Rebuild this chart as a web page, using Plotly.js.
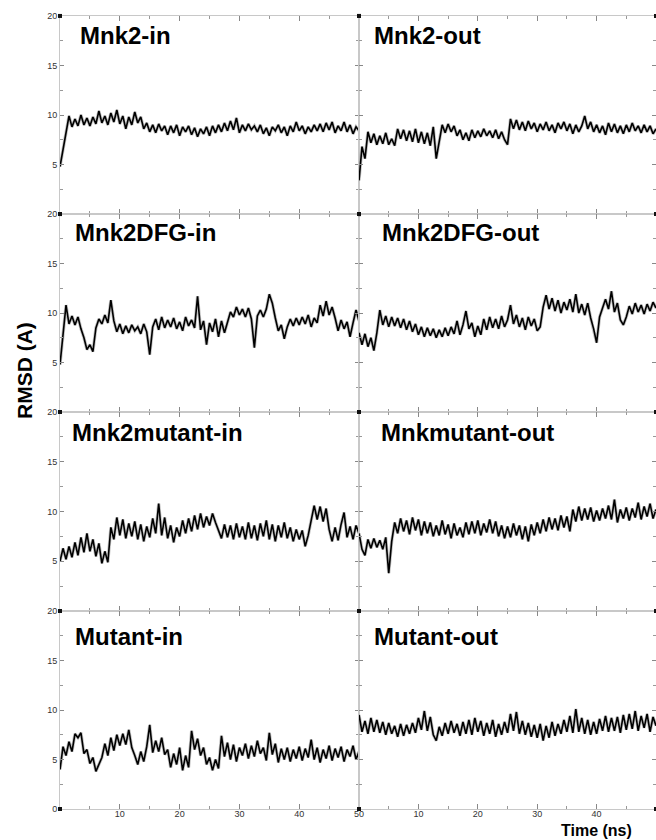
<!DOCTYPE html>
<html>
<head>
<meta charset="utf-8">
<script src="https://cdn.plot.ly/plotly-3.0.1.min.js"></script>
<style>html,body{margin:0;padding:0;background:#fff;}#chart{width:656px;height:840px;}</style>
</head>
<body>
<div id="chart"></div>
<script>
// Time axis (ns)
const time = [0,0.5,1,1.5,2,2.5,3,3.5,4,4.5,5,5.5,6,6.5,7,7.5,8,8.5,9,9.5,
10,10.5,11,11.5,12,12.5,13,13.5,14,14.5,15,15.5,16,16.5,17,17.5,18,18.5,19,19.5,
20,20.5,21,21.5,22,22.5,23,23.5,24,24.5,25,25.5,26,26.5,27,27.5,28,28.5,29,29.5,
30,30.5,31,31.5,32,32.5,33,33.5,34,34.5,35,35.5,36,36.5,37,37.5,38,38.5,39,39.5,
40,40.5,41,41.5,42,42.5,43,43.5,44,44.5,45,45.5,46,46.5,47,47.5,48,48.5,49,49.5,50];

const panelNames = ["Mnk2-in","Mnk2-out","Mnk2DFG-in","Mnk2DFG-out","Mnk2mutant-in","Mnkmutant-out","Mutant-in","Mutant-out"];

const mnk2In = [4.8,6.6,8.2,9.9,8.8,9.6,8.9,10.0,9.0,9.7,
8.9,9.8,9.1,10.4,9.2,9.9,9.0,10.2,9.3,10.5,
9.1,9.9,8.6,9.8,9.0,10.3,9.2,9.8,8.6,9.2,
8.3,9.0,8.2,9.1,8.4,8.9,8.0,8.9,8.2,9.0,
7.9,8.8,8.3,8.9,8.0,8.7,7.8,8.6,8.1,8.8,
7.9,8.9,8.2,9.0,8.3,9.2,8.4,9.4,8.5,9.7,
8.2,9.0,8.4,9.1,8.5,8.9,8.3,9.0,8.1,8.7,
7.9,8.8,8.4,9.0,8.2,8.8,7.9,8.9,8.3,9.3,
8.4,8.9,8.1,8.8,8.3,9.0,8.4,9.1,8.3,9.2,
8.5,9.3,8.2,8.9,8.4,9.3,8.3,9.0,8.1,8.8,
8.4];

const mnk2Out = [3.4,6.8,5.6,8.3,7.2,8.1,7.0,7.9,7.1,8.2,
7.0,7.6,6.9,8.6,7.6,8.5,7.4,8.4,7.3,8.6,
7.2,8.3,7.1,8.2,6.9,8.8,5.6,7.2,9.0,8.2,
9.1,8.3,8.9,7.9,8.5,7.5,8.2,7.4,8.5,7.7,
8.4,7.8,8.6,7.9,8.4,7.7,8.5,7.6,8.3,7.5,
7.0,9.6,8.6,9.5,8.5,9.3,8.4,9.4,8.6,9.2,
8.3,9.1,8.5,9.3,8.4,9.0,8.2,9.2,8.6,9.3,
8.4,9.1,8.1,9.0,8.3,8.9,9.9,8.6,9.3,8.3,
9.0,8.2,8.9,8.0,9.2,8.3,9.1,8.2,8.9,8.1,
9.0,8.3,9.2,8.4,8.9,8.2,9.0,8.3,8.9,8.1,
8.6];

const mnk2DfgIn = [4.8,8.2,10.8,8.9,9.7,8.8,9.6,8.4,7.5,6.3,
6.8,6.1,8.5,9.4,8.9,9.8,9.0,11.3,9.2,8.1,
8.9,7.9,8.7,8.0,8.8,8.2,8.6,7.9,8.9,8.1,
5.8,8.6,9.4,8.3,9.6,8.5,9.3,8.6,9.5,8.4,
9.1,8.2,9.6,8.7,9.3,8.5,11.7,8.3,9.2,6.8,
9.0,8.1,9.4,7.6,9.2,8.0,9.1,10.1,9.6,10.6,
9.8,10.4,9.6,10.5,9.4,6.5,9.7,10.3,9.6,10.4,
11.9,11.0,9.5,8.2,8.8,7.4,8.6,9.4,8.7,9.5,
8.8,9.6,8.9,9.8,8.6,9.5,9.0,10.8,9.7,11.2,
9.8,10.6,9.5,8.2,9.3,8.4,9.1,7.6,9.0,10.3,
9.2];

const mnk2DfgOut = [8.0,6.8,7.9,6.6,7.5,6.2,8.0,10.3,8.8,9.7,
8.6,9.6,8.7,9.5,8.5,9.4,8.3,9.2,8.1,8.9,
7.8,8.6,7.6,8.5,7.7,8.4,7.5,8.3,7.6,8.5,
7.7,8.6,7.9,9.2,7.8,8.8,10.2,8.4,9.0,7.6,
8.7,7.8,9.4,8.3,9.6,8.5,9.4,8.4,9.7,8.6,
9.3,10.8,8.9,9.8,8.6,9.5,8.3,9.6,8.7,9.4,
8.2,8.6,10.6,11.8,10.4,11.5,10.2,11.3,10.0,11.1,
10.3,11.4,10.1,11.9,10.0,10.9,9.8,11.0,9.5,8.4,
7.0,9.6,10.5,11.4,10.4,12.2,10.1,11.0,9.3,8.8,
9.6,10.7,9.9,11.0,10.1,10.8,9.9,10.9,10.2,11.1,
10.5];

const mnk2MutantIn = [5.0,6.3,5.2,6.5,5.4,6.9,5.6,7.4,5.9,7.8,
6.0,7.2,5.5,6.8,4.8,6.0,4.9,8.4,7.2,9.4,
7.6,9.2,7.3,8.8,7.5,9.0,7.2,8.7,7.0,8.5,
7.4,9.3,7.8,10.8,7.6,9.4,7.3,8.6,6.9,8.4,
7.5,9.1,7.8,9.3,8.0,9.6,8.2,9.8,8.4,9.5,
8.6,9.8,8.9,8.1,7.3,8.7,7.4,8.6,7.2,8.8,
7.4,8.5,7.2,8.9,7.3,8.6,7.1,8.8,7.5,9.1,
7.2,8.7,7.0,8.6,7.4,8.9,7.3,8.4,7.0,8.2,
7.2,8.1,6.5,7.6,9.0,10.6,9.2,10.5,9.0,10.3,
8.2,7.0,8.4,7.1,8.7,9.9,7.4,8.5,7.2,8.6,
7.8];

const mnkMutantOut = [7.8,6.2,5.6,7.2,6.3,7.3,6.4,7.1,6.2,7.4,
3.8,7.0,8.9,7.8,9.3,8.0,9.1,7.7,9.4,8.1,
9.2,7.6,9.0,7.8,8.9,7.5,8.6,7.6,9.1,7.7,
8.7,7.3,8.8,7.6,8.4,7.4,8.9,7.7,9.0,7.8,
9.1,7.6,8.8,7.9,9.2,7.8,9.0,7.5,8.6,7.3,
8.5,7.4,8.8,7.6,8.6,7.2,8.5,7.0,8.7,7.6,
8.9,7.8,9.2,8.0,9.4,8.2,9.3,8.1,9.6,8.4,
9.5,8.0,10.2,9.0,10.5,9.1,10.3,9.2,10.4,9.0,
10.1,9.1,10.3,9.3,10.6,9.2,11.2,8.9,10.2,9.3,
10.4,9.1,10.3,9.4,10.9,9.2,10.5,9.5,10.8,9.3,
10.2];

const mutantIn = [4.0,6.3,5.4,6.8,5.8,7.6,7.2,7.7,5.6,6.0,
4.6,5.2,3.8,4.5,5.2,6.6,5.4,7.2,5.9,7.5,
6.4,7.6,6.5,8.0,6.2,5.4,4.5,5.8,4.8,6.3,
8.5,5.7,6.9,5.8,7.2,5.5,6.0,4.2,5.6,4.5,
6.2,3.9,5.4,4.2,7.9,6.0,7.1,5.4,6.2,4.5,
5.2,3.9,5.0,4.1,7.4,5.3,6.7,5.0,6.5,4.8,
6.2,5.4,6.6,5.1,6.4,5.3,6.9,5.6,6.2,4.9,
7.7,5.5,6.6,4.7,6.1,5.0,6.2,4.8,6.0,5.1,
6.3,4.9,6.1,5.2,7.0,5.0,6.2,4.7,6.0,5.1,
6.4,4.9,6.1,5.2,6.3,4.8,6.0,5.3,6.4,5.0,
5.8];

const mutantOut = [9.5,7.8,8.9,7.6,9.2,7.8,9.0,7.7,8.8,7.5,
8.7,7.6,8.4,7.3,8.6,7.4,8.5,7.6,8.7,7.7,
9.2,8.0,9.9,7.9,9.3,7.5,6.9,8.3,7.4,8.7,
7.6,8.9,7.7,8.6,7.4,8.8,7.6,9.0,7.5,9.2,
7.8,8.9,7.4,8.7,7.6,9.0,7.3,8.6,7.5,8.8,
7.7,9.6,7.9,9.8,7.6,8.9,7.5,8.7,7.3,8.5,
7.2,8.6,6.9,8.4,7.2,8.8,7.4,8.6,7.6,9.0,
7.8,9.4,7.7,10.1,7.8,9.2,7.6,9.0,7.5,8.8,
7.6,9.1,7.9,9.4,7.8,9.2,7.9,9.3,7.7,9.5,
8.0,9.6,8.1,9.9,7.9,9.4,8.2,9.6,7.8,9.3,
8.4];

const series = [mnk2In, mnk2Out, mnk2DfgIn, mnk2DfgOut, mnk2MutantIn, mnkMutantOut, mutantIn, mutantOut];

const yTicks = [5,10,15,20];
const yTicksBottom = [0,5,10,15,20];
const yMinor = [2.5,7.5,12.5,17.5];
const xTicks = [10,20,30,40,50];
const xMinor = [5,15,25,35,45];

// layout geometry (paper fractions)
const colDomains = [[0.0915,0.5473],[0.5473,1.0]];
const rowDomains = [[0.7452,0.981],[0.5095,0.7452],[0.2726,0.5095],[0.0369,0.2726]];
const titleOffsets = [[18,-20],[13,-20],[13,-18],[21,-18],[10,-20],[20,-20],[13,-25],[13,-25]];

const traces = [];
const layout = {
  width: 656, height: 840,
  margin: {l:0, r:0, t:0, b:0},
  paper_bgcolor: '#fff', plot_bgcolor: '#fff',
  showlegend: false,
  font: {family: 'Arial, "Liberation Sans", sans-serif', color: '#333', size: 9},
  annotations: [], shapes: []
};

for (let i = 0; i < 8; i++) {
  const row = Math.floor(i/2), col = i % 2;
  const n = i + 1;
  const xa = n === 1 ? 'x' : 'x' + n;
  const ya = n === 1 ? 'y' : 'y' + n;
  const xKey = n === 1 ? 'xaxis' : 'xaxis' + n;
  const yKey = n === 1 ? 'yaxis' : 'yaxis' + n;
  // soft grey halo under the trace, as in the scanned figure
  traces.push({
    x: time, y: series[i], xaxis: xa, yaxis: ya,
    type: 'scatter', mode: 'lines',
    line: {color: 'rgba(120,120,120,0.45)', width: 3.2},
    hoverinfo: 'skip'
  });
  traces.push({
    x: time, y: series[i], xaxis: xa, yaxis: ya,
    type: 'scatter', mode: 'lines',
    line: {color: '#000', width: 1.6},
    hoverinfo: 'skip'
  });
  const bottom = row === 3;
  layout[xKey] = {
    domain: colDomains[col], anchor: ya, range: [0,50],
    showline: true, linecolor: '#c8c8c8', linewidth: 1, mirror: 'ticks',
    showgrid: false, zeroline: false,
    tickmode: 'array', tickvals: xTicks, ticks: 'inside', ticklen: 5, tickcolor: '#888', tickwidth: 1,
    minor: {tickmode: 'array', tickvals: xMinor, ticks: 'inside', ticklen: 3, tickcolor: '#999'},
    showticklabels: bottom, ticklabelstandoff: -4, tickfont: {size: 9, color: '#333'}, fixedrange: true
  };
  layout[yKey] = {
    domain: rowDomains[row], anchor: xa, range: [0,20],
    showline: true, linecolor: '#c8c8c8', linewidth: 1, mirror: 'ticks',
    showgrid: false, zeroline: false,
    tickmode: 'array', tickvals: bottom ? yTicksBottom : yTicks, ticks: 'inside', ticklen: 4, tickcolor: '#888',
    minor: {tickmode: 'array', tickvals: yMinor, ticks: 'inside', ticklen: 3, tickcolor: '#999'},
    showticklabels: col === 0, tickfont: {size: 9, color: '#333'}, fixedrange: true
  };
  layout.annotations.push({
    text: '<b>' + panelNames[i] + '</b>',
    xref: xa + ' domain', yref: ya + ' domain', x: 0, y: 1,
    xanchor: 'left', yanchor: 'middle',
    xshift: titleOffsets[i][0], yshift: titleOffsets[i][1],
    showarrow: false,
    font: {family: 'Arial, "Liberation Sans", sans-serif', size: 24, color: '#000'}
  });
  // corner square markers
  [[0,0],[0,1],[1,0],[1,1]].forEach(function(c){
    layout.shapes.push({
      type: 'rect', xref: xa + ' domain', yref: ya + ' domain',
      xsizemode: 'pixel', ysizemode: 'pixel',
      xanchor: c[0], yanchor: c[1], x0: -2, x1: 2, y0: -2, y1: 2,
      fillcolor: '#111', line: {width: 0}
    });
  });
}

layout.annotations.push({
  text: '<b>RMSD (A)</b>', xref: 'paper', yref: 'paper',
  x: 24/656, y: 1 - 371/840, xanchor: 'center', yanchor: 'middle',
  textangle: -90, showarrow: false,
  font: {family: 'Arial, "Liberation Sans", sans-serif', size: 21, color: '#000'}
});
layout.annotations.push({
  text: '<b>Time (ns)</b>', xref: 'paper', yref: 'paper',
  x: 596/656, y: 0, xanchor: 'center', yanchor: 'bottom', yshift: 0,
  borderpad: 0, showarrow: false,
  font: {family: 'Arial, "Liberation Sans", sans-serif', size: 16, color: '#000'}
});

Plotly.newPlot('chart', traces, layout, {displayModeBar: false, staticPlot: true});
</script>
</body>
</html>
